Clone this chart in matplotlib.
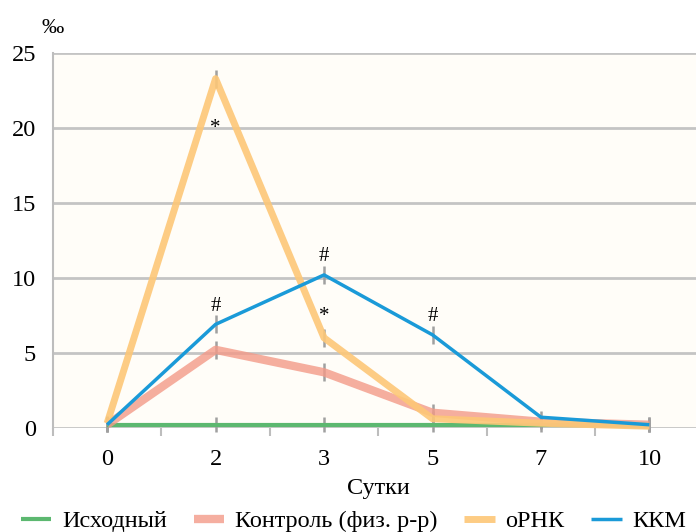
import matplotlib.pyplot as plt
import numpy as np

plt.rcParams['font.family'] = ['Liberation Serif', 'DejaVu Serif']

days = ['0', '2', '3', '5', '7', '10']
ishodny = [0.2, 0.2, 0.2, 0.2, 0.2, 0.2]
ishodny_err = [0.5, 0.5, 0.5, 0.5, 0.5, 0.5]
kontrol = [0.2, 5.2, 3.7, 1.0, 0.4, 0.2]
kontrol_err = [0.5, 0.6, 0.6, 0.6, 0.4, 0.4]
ornk = [0.3, 23.3, 6.0, 0.6, 0.3, 0.1]
ornk_err = [0.5, 0.6, 0.6, 0.5, 0.4, 0.4]
kkm = [0.2, 6.9, 10.2, 6.2, 0.7, 0.2]
kkm_err = [0.5, 0.6, 0.6, 0.6, 0.4, 0.5]

# значки достоверности: (индекс дня, высота, символ)
marks = [(1, 20.0, '*'), (1, 8.1, '#'), (2, 11.4, '#'), (2, 7.4, '*'), (3, 7.4, '#')]

x = np.arange(len(days))

fig = plt.figure(figsize=(6.96, 5.32), dpi=100)
ax = fig.add_axes([0.076, 0.196, 0.935, 0.704])
ax.set_facecolor('#fffdf8')

ax.set_xlim(-0.5, 5.5)
ax.set_ylim(0, 25)
ax.set_yticks([0, 5, 10, 15, 20, 25])
ax.yaxis.grid(True, color='#c4c4c4', linewidth=2)
ax.set_axisbelow(True)

for s in ['top', 'right', 'bottom']:
    ax.spines[s].set_visible(False)
ax.spines['left'].set_color('#bdbdbd')
ax.spines['left'].set_linewidth(1.5)

ax.set_xticks(x)
ax.set_xticklabels(days)
ax.set_xticks(np.arange(-0.5, 6, 1), minor=True)
ax.tick_params(axis='x', which='major', length=0, labelsize=17.5, pad=15)
ax.tick_params(axis='x', which='minor', length=6, color='#bdbdbd', width=1.5)
ax.tick_params(axis='y', length=0, labelsize=17.5, pad=12)

series = [
    (ishodny, ishodny_err, 'Исходный', '#5cb870', 3, 1.0),
    (kontrol, kontrol_err, 'Контроль (физ. р-р)', '#f39a88', 6, 0.8),
    (ornk, ornk_err, 'оРНК', '#fdc777', 5, 0.9),
    (kkm, kkm_err, 'ККМ', '#1a9ad8', 2.5, 1.0),
]
for y, err, name, col, lw, a in series:
    ax.errorbar(x, y, yerr=err, fmt='none', ecolor='#a0a0a0', elinewidth=1.8,
                capsize=0, zorder=2, clip_on=False)
    ax.plot(x, y, color=col, linewidth=lw, alpha=a, label=name, zorder=3,
            clip_on=False, solid_capstyle='butt')

for i, h, s in marks:
    ax.text(x[i], h, s, ha='center', va='center', fontsize=15, zorder=5)

ax.text(-0.5, 26.65, '‰', fontsize=16, ha='center', va='center')
ax.set_xlabel('Сутки', fontsize=17.5, labelpad=6)

fig.legend(loc='center left', bbox_to_anchor=(0.03, 0.02), ncol=4, frameon=False,
           fontsize=17.5, handlelength=1.25, columnspacing=1.1, handletextpad=0.45,
           borderpad=0, borderaxespad=0)

fig.savefig('out.png', dpi=100)
